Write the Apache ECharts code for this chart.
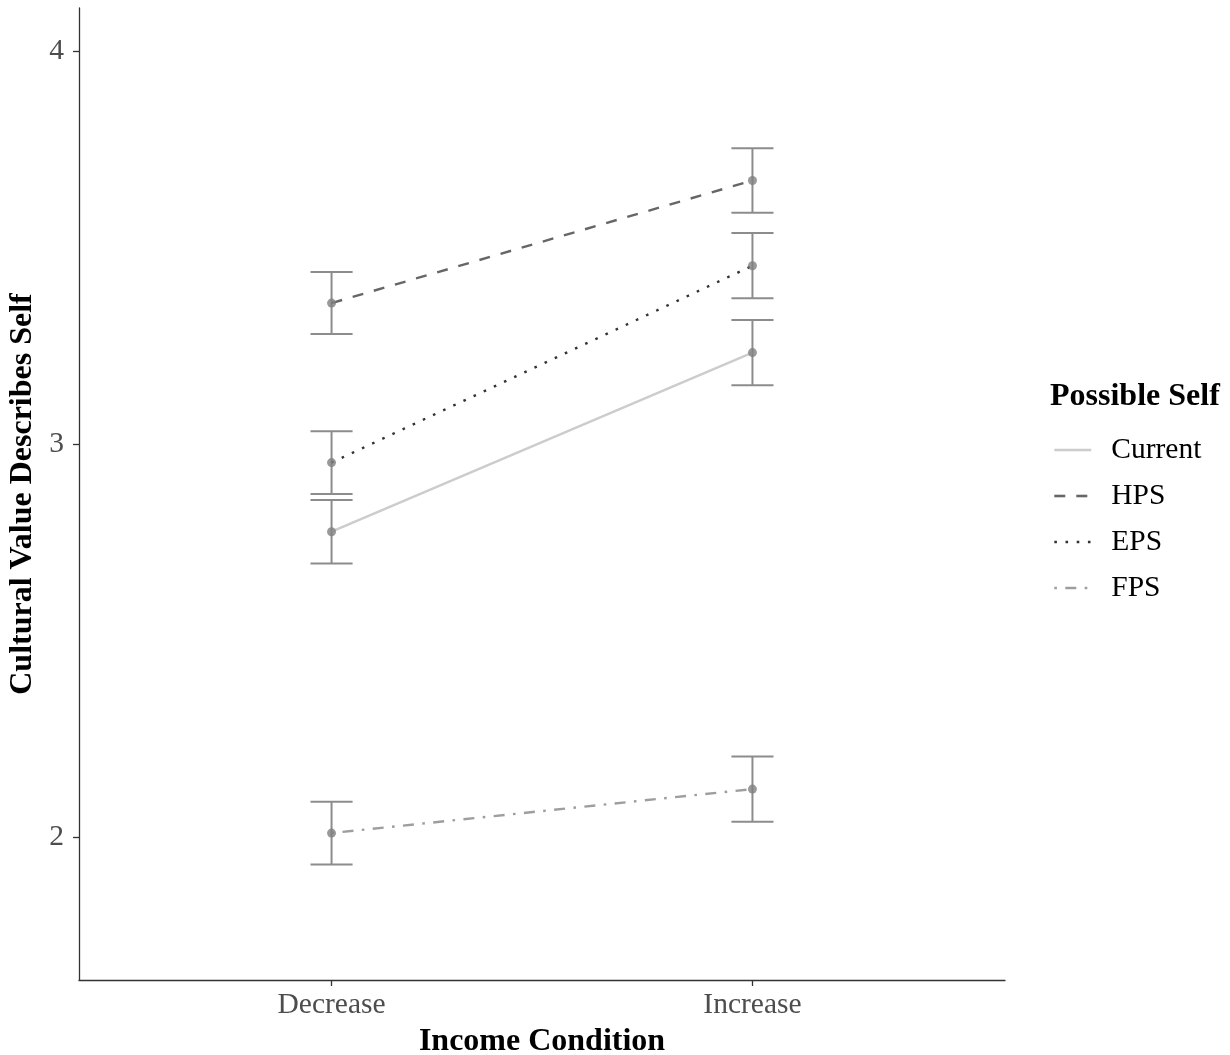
<!DOCTYPE html>
<html>
<head>
<meta charset="utf-8">
<title>Cultural Value Describes Self by Income Condition</title>
<script src="https://cdn.jsdelivr.net/npm/echarts@6/dist/echarts.min.js"></script>
<style>
  html, body { margin: 0; padding: 0; background: #ffffff; }
  #chart { width: 1230px; height: 1055px; }
</style>
</head>
<body>
<div id="chart"></div>
<script>
// Income conditions (x) and possible-self groups
const categories = ['Decrease', 'Increase'];
const groups = ['Current', 'HPS', 'EPS', 'FPS'];

// Mean rating per group, one value per income condition
const currentMean = [2.778, 3.234];
const hpsMean     = [3.360, 3.672];
const epsMean     = [2.954, 3.455];
const fpsMean     = [2.011, 2.123];

// Half-width of the error bars (standard error) per group and condition
const currentErr = [0.081, 0.083];
const hpsErr     = [0.079, 0.082];
const epsErr     = [0.080, 0.083];
const fpsErr     = [0.080, 0.083];

// y-axis tick values
const yTicks = [2, 3, 4];

const means = [currentMean, hpsMean, epsMean, fpsMean];
const errs = [currentErr, hpsErr, epsErr, fpsErr];

const serif = '"Liberation Serif", "DejaVu Serif", serif';

// line look per group
const lineLooks = {
  Current: { color: '#cccccc', type: 'solid' },
  HPS:     { color: '#666666', type: [11, 11] },
  EPS:     { color: '#333333', type: [2.6, 8.6] },
  FPS:     { color: '#9e9e9e', type: [2.6, 8.4, 11, 8.4] }
};

const series = [];

// error bars: vertical whisker with caps, 0.1 x-units wide
const errData = [];
groups.forEach((g, gi) => {
  categories.forEach((c, ci) => {
    errData.push([ci + 1, means[gi][ci] - errs[gi][ci], means[gi][ci] + errs[gi][ci]]);
  });
});
series.push({
  type: 'custom',
  silent: true,
  z: 2,
  data: errData,
  renderItem: function (params, api) {
    const x = api.value(0), lo = api.value(1), hi = api.value(2);
    const pLo = api.coord([x, lo]);
    const pHi = api.coord([x, hi]);
    const cL = api.coord([x - 0.05, hi])[0];
    const cR = api.coord([x + 0.05, hi])[0];
    const st = { stroke: '#8c8c8c', lineWidth: 2 };
    return {
      type: 'group',
      children: [
        { type: 'line', shape: { x1: pLo[0], y1: pLo[1], x2: pHi[0], y2: pHi[1] }, style: st },
        { type: 'line', shape: { x1: cL, y1: pHi[1], x2: cR, y2: pHi[1] }, style: st },
        { type: 'line', shape: { x1: cL, y1: pLo[1], x2: cR, y2: pLo[1] }, style: st }
      ]
    };
  }
});

// connecting lines per group
groups.forEach((g, gi) => {
  series.push({
    name: g,
    type: 'line',
    z: 3,
    symbol: 'none',
    silent: true,
    data: categories.map((c, ci) => [ci + 1, means[gi][ci]]),
    lineStyle: { color: lineLooks[g].color, type: lineLooks[g].type, width: 2.4, cap: 'butt' },
    itemStyle: { color: lineLooks[g].color }
  });
});

// mean points
const pointData = [];
groups.forEach((g, gi) => {
  categories.forEach((c, ci) => pointData.push([ci + 1, means[gi][ci]]));
});
series.push({
  type: 'scatter',
  z: 4,
  silent: true,
  symbol: 'circle',
  symbolSize: 9,
  itemStyle: { color: '#7f7f7f' },
  data: pointData
});

const option = {
  backgroundColor: '#ffffff',
  animation: false,
  grid: { left: 79, right: 225, top: 8, bottom: 75, outerBoundsMode: 'none', containLabel: false },
  title: {
    text: 'Possible Self',
    left: 1045,
    top: 376,
    textStyle: { fontFamily: serif, fontWeight: 'bold', fontSize: 32, color: '#000000' }
  },
  legend: {
    data: groups,
    orient: 'vertical',
    left: 1048,
    top: 430,
    itemWidth: 37,
    itemHeight: 14,
    itemGap: 16,
    itemStyle: { opacity: 0 },
    lineStyle: { width: 2.6 },
    textStyle: { fontFamily: serif, fontSize: 29.5, color: '#000000', padding: [0, 0, 0, 15] },
    selectedMode: false
  },
  xAxis: {
    type: 'value',
    min: 0.4,
    max: 2.6,
    name: 'Income Condition',
    nameLocation: 'middle',
    nameGap: 46,
    nameTextStyle: { fontFamily: serif, fontWeight: 'bold', fontSize: 32, color: '#000000' },
    axisLine: { show: true, lineStyle: { color: '#333333', width: 1.3 } },
    axisTick: { show: true, length: 6, customValues: [1, 2], lineStyle: { color: '#333333', width: 1.3 } },
    axisLabel: {
      customValues: [1, 2],
      formatter: v => categories[Math.round(v) - 1],
      fontFamily: serif, fontSize: 29.5, color: '#4d4d4d', margin: 10
    },
    splitLine: { show: false }
  },
  yAxis: {
    type: 'value',
    min: 1.637,
    max: 4.111,
    name: 'Cultural Value Describes Self',
    nameLocation: 'middle',
    nameGap: 36,
    nameTextStyle: { fontFamily: serif, fontWeight: 'bold', fontSize: 32, color: '#000000' },
    axisLine: { show: true, lineStyle: { color: '#333333', width: 1.3 } },
    axisTick: { show: true, length: 6, customValues: yTicks, lineStyle: { color: '#333333', width: 1.3 } },
    axisLabel: {
      customValues: yTicks,
      fontFamily: serif, fontSize: 29.5, color: '#4d4d4d', margin: 15
    },
    splitLine: { show: false }
  },
  series: series
};

const chart = echarts.init(document.getElementById('chart'), null, { renderer: 'canvas' });
chart.setOption(option);
</script>
</body>
</html>
